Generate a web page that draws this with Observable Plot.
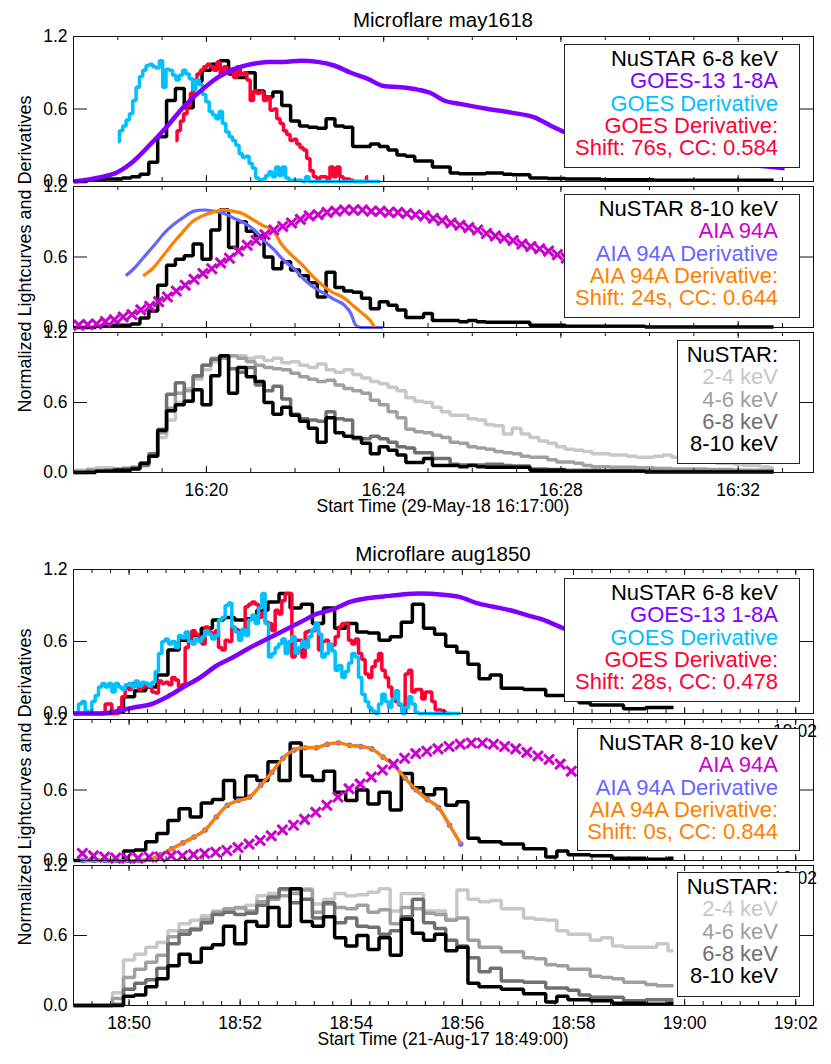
<!DOCTYPE html>
<html><head><meta charset="utf-8">
<script src="https://cdn.jsdelivr.net/npm/d3@7"></script>
<script src="https://cdn.jsdelivr.net/npm/@observablehq/plot@0.6"></script>
<style>
body{margin:0;background:#fff;}
#chart{position:relative;width:831px;height:1064px;}
#chart svg{position:absolute;left:0;}
</style></head><body><div id="chart"></div>
<script>
// ---------- text ----------
const titles = ["Microflare may1618", "Microflare aug1850"];
const xTitles = ["Start Time (29-May-18 16:17:00)", "Start Time (21-Aug-17 18:49:00)"];
const yTitle = "Normalized Lightcurves and Derivatives";
const yTicks = [0, 0.6, 1.2];
const xMajor1 = [3, 7, 11, 15];
const xLabels1 = ["16:20", "16:24", "16:28", "16:32"];
const xMajor2 = [1, 3, 5, 7, 9, 11, 13];
const xLabels2 = ["18:50", "18:52", "18:54", "18:56", "18:58", "19:00", "19:02"];

const legendG1P1 = ["NuSTAR 6-8 keV", "GOES-13 1-8A", "GOES Derivative", "GOES Derivative:", "Shift: 76s, CC: 0.584"];
const legendG1P2 = ["NuSTAR 8-10 keV", "AIA 94A", "AIA 94A Derivative", "AIA 94A Derivative:", "Shift: 24s, CC: 0.644"];
const legendG2P1 = ["NuSTAR 6-8 keV", "GOES-13 1-8A", "GOES Derivative", "GOES Derivative:", "Shift: 28s, CC: 0.478"];
const legendG2P2 = ["NuSTAR 8-10 keV", "AIA 94A", "AIA 94A Derivative", "AIA 94A Derivative:", "Shift: 0s, CC: 0.844"];
const legendP3 = ["NuSTAR:", "2-4 keV", "4-6 keV", "6-8 keV", "8-10 keV"];

const C = {black:"#000000", purple:"#8000ff", cyan:"#00bfff", red:"#ff0033", magenta:"#cc00cc",
  blue:"#6666ff", orange:"#ff8000", g24:"#c8c8c8", g46:"#a0a0a0", g68:"#707070"};

// ---------- Flare 1 (minutes after 16:17:00) ----------
const nuDt = 0.2; // NuSTAR bin (min)
const g1_nu810 = [0.0,0.0,0.0,0.01,0.01,0.02,0.02,0.03,0.08,0.14,
 0.36,0.53,0.58,0.61,0.71,0.58,0.83,1.0,0.68,0.9,
 0.82,0.78,0.6,0.5,0.56,0.49,0.44,0.38,0.26,0.47,
 0.34,0.31,0.3,0.25,0.16,0.22,0.19,0.15,0.085,0.085,
 0.12,0.06,0.06,0.06,0.05,0.06,0.05,0.045,0.045,0.045,
 0.045,0.045,0.02,0.02,0.02,0.02,0.01,0.01,0.01,0.01,
 0.01,0.01,0.01,0.01,0.01,0.005,0.005,0.005,0.005,0.005,
 0.005,0.005,0.005,0.005,0.005,0.005,0.005,0.005,0.005,0.005];
const g1_nu68 = [0.0,0.0,0.01,0.01,0.02,0.02,0.03,0.04,0.06,0.16,
 0.37,0.67,0.77,0.61,0.83,0.92,0.97,1.0,0.89,0.86,
 0.9,0.75,0.7,0.74,0.63,0.5,0.46,0.45,0.44,0.52,
 0.46,0.45,0.29,0.29,0.31,0.29,0.26,0.22,0.21,0.17,
 0.17,0.12,0.12,0.07,0.065,0.065,0.065,0.07,0.07,0.06,
 0.055,0.055,0.03,0.03,0.025,0.025,0.02,0.02,0.02,0.02,
 0.015,0.015,0.015,0.015,0.015,0.015,0.01,0.01,0.01,0.01,
 0.01,0.01,0.01,0.01,0.01,0.01,0.01,0.01,0.01,0.01];
const g1_nu46 = [0.01,0.01,0.02,0.02,0.02,0.03,0.03,0.04,0.08,0.14,
 0.34,0.55,0.68,0.7,0.82,0.92,0.98,0.98,1.0,0.98,
 0.95,0.92,0.9,0.89,0.88,0.85,0.82,0.8,0.78,0.79,
 0.75,0.72,0.7,0.68,0.62,0.58,0.52,0.47,0.37,0.35,
 0.34,0.32,0.3,0.26,0.25,0.22,0.21,0.2,0.18,0.17,
 0.16,0.14,0.13,0.13,0.11,0.09,0.09,0.08,0.06,0.05,
 0.05,0.045,0.045,0.045,0.04,0.04,0.035,0.035,0.03,0.03,
 0.03,0.03,0.025,0.025,0.025,0.02,0.02,0.02,0.02,0.02];
const g1_nu24 = [0.02,0.02,0.03,0.04,0.04,0.03,0.04,0.05,0.08,0.14,
 0.3,0.45,0.6,0.72,0.8,0.88,0.95,0.98,1.0,1.0,
 0.98,0.99,0.96,0.98,0.94,0.95,0.92,0.9,0.93,0.88,
 0.86,0.88,0.84,0.81,0.78,0.76,0.73,0.7,0.64,0.61,
 0.6,0.56,0.52,0.49,0.49,0.46,0.45,0.41,0.4,0.33,
 0.38,0.33,0.3,0.27,0.25,0.22,0.2,0.19,0.18,0.16,
 0.16,0.15,0.15,0.14,0.13,0.13,0.14,0.15,0.13,0.12,
 0.11,0.1,0.09,0.08,0.08,0.07,0.06,0.06,0.05,0.04];

const g1_goesT = [0,0.61,0.99,1.36,1.74,2.12,2.49,2.87,3.25,3.62,4.0,4.38,4.75,5.13,5.51,5.88,6.26,6.64,7.0,7.39,7.77,8.07,8.36,8.75,9.36,9.88,10.4,10.78,11.07,11.9,13.0,14.1,15.2,16.05];
const g1_goesV = [0.0,0.035,0.077,0.17,0.31,0.46,0.62,0.75,0.86,0.93,0.97,0.99,0.99,1.0,0.99,0.96,0.9,0.85,0.79,0.78,0.76,0.73,0.67,0.64,0.6,0.57,0.53,0.46,0.41,0.33,0.25,0.19,0.14,0.11];

const g1_derivStart = 1.0, g1_shiftStart = 2.3, derivDt1 = 0.075;
const g1_goesDeriv = [0.33,0.42,0.46,0.51,0.56,0.67,0.78,0.87,0.92,0.96,
 0.97,0.95,0.94,1.0,0.78,0.93,0.92,0.88,0.84,0.88,
 0.92,0.89,0.85,0.76,0.84,0.8,0.72,0.66,0.58,0.55,
 0.52,0.58,0.48,0.41,0.37,0.34,0.3,0.23,0.2,0.21,
 0.15,0.11,0.03,0.01,0.02,0.05,0.08,0.04,0.12,0.05,
 0.12,0.03,0.01,0.01,0.01,0.01,0.0,0.04,0.0,0.0,
 0,0,0,0,0,0,0,0,0,0, 0,0,0,0,0,0,0,0,0,0];
const g1_goesDerivShift = [0.34,0.42,0.5,0.56,0.63,0.73,0.84,0.89,0.92,0.95,
 0.97,0.95,0.92,0.99,0.88,0.95,0.9,0.93,0.86,0.95,
 0.89,0.9,0.84,0.67,0.75,0.73,0.74,0.67,0.7,0.59,
 0.6,0.52,0.48,0.42,0.39,0.34,0.35,0.31,0.28,0.26,
 0.19,0.09,0.04,0.02,0.04,0.04,0.02,0.12,0.04,0.12,
 0.04,0.02,0.02,0.01,0.0,0.0,0.0,0.0,0.04];

const aiaDt = 0.2, g1_aiaStart = 0.12;
const g1_aia = [0.02,0.025,0.03,0.05,0.065,0.09,0.11,0.15,0.18,0.22,
 0.26,0.31,0.36,0.41,0.46,0.5,0.55,0.59,0.65,0.7,
 0.74,0.79,0.83,0.86,0.89,0.92,0.95,0.96,0.98,0.99,
 1.0,1.0,1.0,0.99,0.99,0.98,0.98,0.97,0.96,0.95,
 0.93,0.91,0.89,0.87,0.85,0.83,0.8,0.78,0.76,0.74,
 0.71,0.69,0.67,0.65,0.62,0.59,0.57,0.55,0.53,0.51,
 0.49,0.47,0.45,0.43,0.41,0.39,0.37,0.35,0.33,0.31,
 0.3,0.28,0.27,0.25,0.24,0.23,0.22,0.21,0.2];
const g1_aiaDerivT = [1.18,1.36,1.59,1.82,2.04,2.27,2.49,2.72,2.95,3.17,3.4,3.62,3.85,4.08,4.3,4.53,4.75,4.98,5.2,5.43,5.66,5.88,6.11,6.26,6.37,6.49,6.98];
const g1_aiaDerivV = [0.44,0.5,0.6,0.7,0.8,0.88,0.94,0.99,1.0,0.99,0.97,0.93,0.89,0.83,0.74,0.66,0.57,0.5,0.41,0.34,0.29,0.24,0.19,0.12,0.02,0.0,0.0];
const g1_aiaShiftT = [1.57,1.78,2.0,2.23,2.46,2.68,2.91,3.13,3.36,3.59,3.81,4.04,4.26,4.49,4.71,4.94,5.17,5.39,5.62,5.84,6.07,6.3,6.52,6.75,6.79];
const g1_aiaShiftV = [0.44,0.5,0.6,0.71,0.81,0.9,0.95,0.98,1.0,0.99,0.97,0.92,0.87,0.83,0.7,0.61,0.53,0.44,0.36,0.3,0.26,0.19,0.12,0.03,0.0];

// ---------- Flare 2 (minutes after 18:49:00) ----------
const g2_nu810 = [0,0,0,0,0,0.08,0.09,0.16,0.23,0.34,
 0.44,0.37,0.49,0.52,0.68,0.53,0.72,0.68,0.84,0.68,
 1.0,0.72,0.68,0.76,0.58,0.51,0.6,0.48,0.58,0.43,
 0.74,0.62,0.56,0.61,0.47,0.5,0.19,0.16,0.16,0.14,
 0.14,0.1,0.1,0.03,0.08,0.05,0.05,0.04,0.04,0.02,
 0.02,0.02,0.01,0.01,0.02];
const g2_nu68 = [0,0,0,0,0.01,0.14,0.19,0.22,0.32,0.53,
 0.61,0.65,0.71,0.78,0.8,0.78,0.79,0.86,0.93,1.0,
 0.88,0.91,0.75,0.88,0.71,0.75,0.68,0.67,0.61,0.64,
 0.76,0.91,0.71,0.66,0.56,0.51,0.41,0.29,0.32,0.21,
 0.21,0.2,0.2,0.15,0.15,0.13,0.09,0.07,0.07,0.07,
 0.04,0.04,0.05,0.05,0.05];
const g2_nu46 = [0,0,0,0,0.06,0.24,0.31,0.37,0.43,0.59,
 0.64,0.66,0.74,0.8,0.83,0.84,0.81,0.89,0.91,0.94,
 0.96,0.99,0.8,0.87,0.84,0.83,0.86,0.8,0.82,0.7,
 0.84,0.83,0.79,0.78,0.73,0.75,0.56,0.5,0.5,0.46,
 0.46,0.41,0.4,0.35,0.34,0.31,0.31,0.25,0.24,0.23,
 0.2,0.2,0.18,0.17,0.17];
const g2_nu24 = [0,0,0,0,0.11,0.39,0.44,0.5,0.54,0.64,
 0.7,0.73,0.77,0.81,0.81,0.83,0.86,0.94,0.96,0.99,
 0.99,1.0,0.87,0.91,0.96,0.94,0.95,0.97,1.0,0.81,
 0.96,0.96,0.81,0.81,0.74,0.99,0.91,0.89,0.9,0.83,
 0.83,0.75,0.74,0.73,0.64,0.61,0.61,0.56,0.58,0.51,
 0.5,0.5,0.5,0.53,0.47];

const g2_goesT = [0,0.49,0.79,1.08,1.38,1.69,1.98,2.28,2.58,2.88,3.18,3.48,3.78,4.08,4.38,4.68,4.98,5.28,5.58,5.88,6.24,6.65,6.96,7.26,7.56,7.86,8.16,8.46,8.82,9.5,10.2,10.8];
const g2_goesV = [0.0,0.0,0.02,0.05,0.075,0.14,0.22,0.3,0.4,0.47,0.55,0.62,0.69,0.76,0.83,0.87,0.93,0.96,0.975,0.99,1.0,0.99,0.97,0.92,0.89,0.86,0.82,0.78,0.71,0.62,0.54,0.48];

const g2_derivStart = 0.0, g2_shiftStart = 0.48, derivDt2 = 0.06;
const g2_goesDeriv = [0.0,0.0,0.08,0.1,0.02,0.0,0.1,0.15,0.22,0.25,
 0.22,0.25,0.18,0.25,0.22,0.2,0.24,0.25,0.22,0.27,
 0.23,0.26,0.25,0.23,0.26,0.35,0.5,0.6,0.62,0.58,
 0.6,0.55,0.65,0.63,0.68,0.6,0.58,0.62,0.6,0.64,
 0.69,0.66,0.62,0.65,0.78,0.8,0.9,0.92,0.72,0.68,
 0.61,0.7,0.65,0.78,0.82,0.75,0.88,1.0,0.75,0.47,
 0.5,0.55,0.58,0.62,0.5,0.6,0.64,0.5,0.55,0.6,
 0.55,0.64,0.7,0.75,0.66,0.47,0.5,0.58,0.52,0.36,
 0.4,0.3,0.35,0.42,0.5,0.47,0.3,0.16,0.1,0.05,
 0.02,0.0,0.08,0.16,0.1,0.05,0.12,0.19,0.08,0.0,
 0.05,0.14,0.08,0.01,0.0,0.0,0.0,0.0,0.0,0.0,
 0,0,0,0,0,0,0];
const g2_goesDerivShift = [0.0,0.0,0.08,0.08,0.0,0.0,0.05,0.14,0.22,0.2,
 0.25,0.24,0.2,0.22,0.25,0.22,0.18,0.17,0.27,0.25,
 0.26,0.24,0.3,0.28,0.22,0.24,0.55,0.6,0.69,0.66,
 0.61,0.58,0.72,0.68,0.64,0.69,0.55,0.53,0.61,0.6,
 0.72,0.7,0.68,0.7,0.89,0.91,0.93,0.91,0.8,0.84,
 0.76,0.75,0.69,0.86,0.83,0.94,1.0,1.0,0.47,0.61,
 0.61,0.47,0.68,0.69,0.69,0.72,0.53,0.6,0.61,0.54,
 0.57,0.64,0.72,0.75,0.75,0.61,0.58,0.62,0.5,0.45,
 0.33,0.3,0.39,0.44,0.5,0.36,0.3,0.22,0.14,0.1,
 0.07,0.03,0.33,0.36,0.18,0.2,0.2,0.12,0.18,0.18,
 0.1,0.03,0.03,0.02,0.0,0.0];

const g2_aiaStart = 0.16, g2_aiaDerivStart = 0.17, g2_aiaShiftSec = 0;
const g2_aia = [0.06,0.04,0.03,0.02,0.02,0.02,0.03,0.03,0.04,0.04,
 0.05,0.06,0.07,0.085,0.11,0.14,0.17,0.21,0.26,0.3,
 0.35,0.41,0.47,0.54,0.61,0.65,0.71,0.77,0.82,0.87,
 0.91,0.93,0.95,0.97,0.99,1.0,1.0,0.99,0.97,0.95,
 0.92,0.89,0.86,0.82,0.76,0.72,0.68,0.63,0.58,0.53,
 0.48,0.44,0.4,0.36];
const g2_aiaDeriv = [0.0,0.0,0.0,0.0,0.0,0.0,0.01,0.05,0.1,0.15,
 0.2,0.26,0.37,0.47,0.51,0.54,0.64,0.75,0.87,0.94,
 0.96,0.96,0.99,1.0,0.98,0.97,0.95,0.88,0.81,0.7,
 0.6,0.52,0.45,0.3,0.14];

// ---------- helpers ----------
const seq = (vals, t0, dt) => vals.map((v, i) => ({t: t0 + dt * i, v}));
const pairs = (ts, vs) => ts.map((t, i) => ({t, v: vs[i]}));
const FONT = "Liberation Sans, Arial, Helvetica, sans-serif";
const root = document.getElementById("chart");
const L = 73, R = 813;
const LW = 3.5;

function lineMark(data, color, w, curve) {
  return Plot.line(data, {x: "t", y: "v", stroke: color, strokeWidth: w, curve: curve || "linear",
    strokeLinejoin: "miter", strokeLinecap: "butt"});
}
function crosses(data) {
  return Plot.dot(data, {x: "t", y: "v", symbol: "times", r: 4.6, stroke: C.magenta, strokeWidth: 3});
}

function panel({top, bottom, xDomain, majors, labels, minors, marks, showX}) {
  const mt = 10, mb = showX ? 34 : 10;
  const ph = bottom - top, pw = R - L;
  const lab = new Map(majors.map((m, i) => [m, labels[i]]));
  const all = [
    ...marks,
    Plot.frame({stroke: "#111", strokeWidth: 1}),
    Plot.ruleX(minors, {x: d => d, insetTop: ph - 4, stroke: "#111"}),
    Plot.ruleX(majors, {x: d => d, insetTop: ph - 6, stroke: "#111"}),
    Plot.ruleX(minors, {x: d => d, insetBottom: ph - 4, stroke: "#111"}),
    Plot.ruleX(majors, {x: d => d, insetBottom: ph - 6, stroke: "#111"}),
    Plot.ruleY(yTicks, {y: d => d, insetRight: pw - 14, stroke: "#111"}),
    Plot.ruleY(yTicks, {y: d => d, insetLeft: pw - 14, stroke: "#111"}),
    Plot.axisY({ticks: yTicks, tickFormat: d3.format(".1f"), tickSize: 0, tickPadding: 6, label: null,
      fontSize: 17.5, fill: "#000"})
  ];
  if (showX) all.push(Plot.axisX({ticks: majors, tickFormat: d => lab.get(d), tickSize: 0, tickPadding: 11,
    label: null, fontSize: 17.5, fill: "#000"}));
  const svg = Plot.plot({
    width: 831, height: ph + mt + mb,
    marginLeft: L, marginRight: 831 - R, marginTop: mt, marginBottom: mb,
    x: {domain: xDomain, axis: showX ? undefined : null, label: null},
    y: {domain: [0, 1.2], label: null},
    style: {fontFamily: FONT, fontSize: "17.5px", background: "transparent", overflow: "visible", color: "#000"},
    marks: all
  });
  svg.style.top = (top - mt) + "px";
  svg.style.left = "0px";
  root.appendChild(svg);
}

// ---------- Flare 1 panels ----------
const x1 = [0, 16.7], minors1 = d3.range(1, 17);
panel({top: 36, bottom: 181, xDomain: x1, majors: xMajor1, labels: xLabels1, minors: minors1, marks: [
  lineMark(seq(g1_nu68, 0, nuDt), C.black, LW, "step"),
  lineMark(seq(g1_goesDerivShift, g1_shiftStart, derivDt1), C.red, LW, "step"),
  lineMark(seq(g1_goesDeriv, g1_derivStart, derivDt1), C.cyan, LW, "step"),
  lineMark(pairs(g1_goesT, g1_goesV), C.purple, 4.5, "monotone-x")
]});
panel({top: 186, bottom: 327, xDomain: x1, majors: xMajor1, labels: xLabels1, minors: minors1, marks: [
  lineMark(seq(g1_nu810, 0, nuDt), C.black, LW, "step"),
  lineMark(pairs(g1_aiaDerivT, g1_aiaDerivV), C.blue, 3.2, "monotone-x"),
  lineMark(pairs(g1_aiaShiftT, g1_aiaShiftV), C.orange, 3.2, "monotone-x"),
  crosses(seq(g1_aia, g1_aiaStart, aiaDt))
]});
panel({top: 332, bottom: 472, xDomain: x1, majors: xMajor1, labels: xLabels1, minors: minors1, showX: true, marks: [
  lineMark(seq(g1_nu24, 0, nuDt), C.g24, LW, "step"),
  lineMark(seq(g1_nu46, 0, nuDt), C.g46, LW, "step"),
  lineMark(seq(g1_nu68, 0, nuDt), C.g68, LW, "step"),
  lineMark(seq(g1_nu810, 0, nuDt), C.black, LW, "step")
]});

// ---------- Flare 2 panels ----------
const x2 = [0, 13.32], minors2 = d3.range(1, 40).map(i => i / 3);
panel({top: 569, bottom: 713, xDomain: x2, majors: xMajor2, labels: xLabels2, minors: minors2, marks: [
  lineMark(seq(g2_nu68, 0, nuDt), C.black, LW, "step"),
  lineMark(seq(g2_goesDerivShift, g2_shiftStart, derivDt2), C.red, LW, "step"),
  lineMark(seq(g2_goesDeriv, g2_derivStart, derivDt2), C.cyan, LW, "step"),
  lineMark(pairs(g2_goesT, g2_goesV), C.purple, 4.5, "monotone-x")
]});
panel({top: 719, bottom: 860, xDomain: x2, majors: xMajor2, labels: xLabels2, minors: minors2, marks: [
  lineMark(seq(g2_nu810, 0, nuDt), C.black, LW, "step"),
  lineMark(seq(g2_aiaDeriv, g2_aiaDerivStart, aiaDt), C.blue, 3.2, "monotone-x"),
  Plot.dot(seq(g2_aiaDeriv, g2_aiaDerivStart, aiaDt), {x: "t", y: "v", r: 2.8, fill: C.blue}),
  lineMark(seq(g2_aiaDeriv, g2_aiaDerivStart + g2_aiaShiftSec / 60, aiaDt), C.orange, 3.2, "monotone-x"),
  crosses(seq(g2_aia, g2_aiaStart, aiaDt))
]});
panel({top: 865, bottom: 1005, xDomain: x2, majors: xMajor2, labels: xLabels2, minors: minors2, showX: true, marks: [
  lineMark(seq(g2_nu24, 0, nuDt), C.g24, LW, "step"),
  lineMark(seq(g2_nu46, 0, nuDt), C.g46, LW, "step"),
  lineMark(seq(g2_nu68, 0, nuDt), C.g68, LW, "step"),
  lineMark(seq(g2_nu810, 0, nuDt), C.black, LW, "step")
]});

// ---------- overlay: titles, axis titles, legends ----------
const ov = d3.select(root).append("svg").attr("width", 831).attr("height", 1064)
  .style("top", "0px").style("left", "0px").attr("font-family", FONT);
const cx = (L + R) / 2;
[[titles[0], 26.5], [titles[1], 560.5]].forEach(([s, y]) =>
  ov.append("text").attr("x", cx).attr("y", y).attr("text-anchor", "middle").attr("font-size", 20.5).text(s));
[[xTitles[0], 512], [xTitles[1], 1045]].forEach(([s, y]) =>
  ov.append("text").attr("x", cx).attr("y", y).attr("text-anchor", "middle").attr("font-size", 17.5).text(s));
[254, 787].forEach(y =>
  ov.append("text").attr("transform", `translate(31,${y}) rotate(-90)`).attr("text-anchor", "middle")
    .attr("font-size", 18).text(yTitle));
// leftover tick labels of the upper panels (partly hidden by the legend boxes)
[736.5, 883.5].forEach(y =>
  ov.append("text").attr("x", 795).attr("y", y).attr("text-anchor", "middle").attr("font-size", 17.5).text(xLabels2[6]));

function legend(x, y, w, h, lines, colors) {
  ov.append("rect").attr("x", x + 0.5).attr("y", y + 0.5).attr("width", w).attr("height", h)
    .attr("fill", "#fff").attr("stroke", "#222").attr("stroke-width", 1);
  lines.forEach((s, i) => ov.append("text").attr("x", 778).attr("y", y + 21.7 + 22.4 * i)
    .attr("text-anchor", "end").attr("font-size", 22).attr("fill", colors[i]).text(s));
}
const goesCols = [C.black, C.purple, C.cyan, C.red, C.red];
const aiaCols = [C.black, C.magenta, C.blue, C.orange, C.orange];
const nuCols = [C.black, C.g24, C.g46, C.g68, C.black];
legend(564, 44, 235, 123, legendG1P1, goesCols);
legend(564, 194, 235, 123, legendG1P2, aiaCols);
legend(677, 340, 122, 123, legendP3, nuCols);
legend(564, 578, 235, 123, legendG2P1, goesCols);
legend(577, 728, 222, 122, legendG2P2, aiaCols);
legend(677, 872, 122, 124, legendP3, nuCols);
</script></body></html>
